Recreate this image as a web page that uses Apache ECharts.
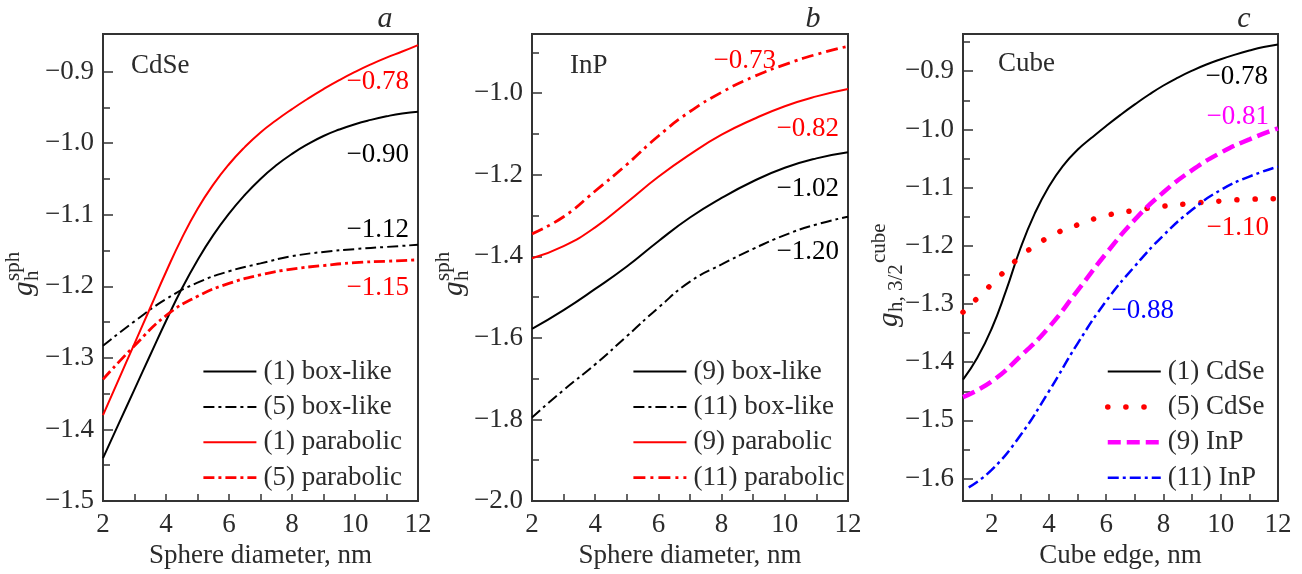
<!DOCTYPE html>
<html>
<head>
<meta charset="utf-8">
<script src="https://cdn.jsdelivr.net/npm/echarts@6/dist/echarts.min.js"></script>
<style>html,body{margin:0;padding:0;background:#fff}#c{width:1302px;height:574px}</style>
</head>
<body>
<div id="c"></div>
<script>
// ---------- data ----------
const xA = [2, 3, 4, 5, 6, 7, 8, 9, 10, 11, 12];
const xAfine = [2, 2.5, 3, 3.5, 4, 4.5, 5, 5.5, 6, 6.5, 7, 7.5, 8, 8.5, 9, 9.5, 10, 10.5, 11, 11.5, 12];
const a1Box = [-1.44, -1.392, -1.344, -1.296, -1.2485, -1.2035, -1.1635, -1.1285, -1.0985, -1.0725, -1.05, -1.031, -1.015, -1.0015, -0.99, -0.981, -0.9735, -0.9675, -0.9625, -0.9585, -0.956];
const a5Box = [-1.283, -1.249, -1.218, -1.195, -1.179, -1.168, -1.158, -1.152, -1.148, -1.145, -1.142];
const a1Par = [-1.38, -1.33, -1.28, -1.23, -1.18, -1.133, -1.092, -1.058, -1.0295, -1.0055, -0.985, -0.968, -0.9525, -0.938, -0.9245, -0.912, -0.9005, -0.89, -0.8805, -0.872, -0.863];
const a5Par = [-1.33, -1.283, -1.241, -1.214, -1.196, -1.184, -1.176, -1.171, -1.167, -1.165, -1.163];

const xB = [2, 3, 4, 5, 6, 7, 8, 9, 10, 11, 12];
const b9Box = [-1.578, -1.532, -1.48, -1.425, -1.363, -1.305, -1.257, -1.216, -1.183, -1.16, -1.145];
const b11Box = [-1.795, -1.728, -1.665, -1.596, -1.526, -1.462, -1.42, -1.382, -1.348, -1.322, -1.303];
const b9Par = [-1.405, -1.375, -1.329, -1.268, -1.205, -1.15, -1.102, -1.064, -1.032, -1.008, -0.99];
const b11Par = [-1.345, -1.303, -1.24, -1.175, -1.105, -1.045, -0.998, -0.96, -0.93, -0.905, -0.885];

const xC = [1, 2, 3, 4, 5, 6, 7, 8, 9, 10, 11, 12];
const xCfine = [1, 1.5, 2, 2.5, 3, 3.5, 4, 4.5, 5, 5.5, 6, 6.5, 7, 7.5, 8, 8.5, 9, 9.5, 10, 10.5, 11, 11.5, 12];
const c1CdSe = [-1.43, -1.3925, -1.3425, -1.2775, -1.205, -1.145, -1.098, -1.062, -1.035, -1.014, -0.994, -0.975, -0.957, -0.94, -0.9245, -0.911, -0.899, -0.8885, -0.8795, -0.8715, -0.8645, -0.8585, -0.854];
const c5CdSe = [-1.314, -1.266, -1.219, -1.185, -1.164, -1.148, -1.139, -1.132, -1.127, -1.123, -1.12, -1.119];
const c9InP = [-1.46, -1.433, -1.39, -1.34, -1.277, -1.213, -1.155, -1.108, -1.07, -1.04, -1.017, -0.998];
const xC11 = [1.2, 2, 3, 4, 5, 6, 7, 8, 9, 10, 11, 12];
const c11InP = [-1.615, -1.585, -1.526, -1.45, -1.368, -1.295, -1.235, -1.182, -1.138, -1.104, -1.081, -1.064];

// ticks
const xLabelsAB = [2, 4, 6, 8, 10, 12];
const xTicksAB = [2, 3, 4, 5, 6, 7, 8, 9, 10, 11, 12];
const xLabelsC = [2, 4, 6, 8, 10, 12];
const xTicksC = [1, 2, 3, 4, 5, 6, 7, 8, 9, 10, 11, 12];
const yMajorA = [-1.5, -1.4, -1.3, -1.2, -1.1, -1.0, -0.9];
const yMinorA = [-1.45, -1.35, -1.25, -1.15, -1.05, -0.95];
const yMajorB = [-2.0, -1.8, -1.6, -1.4, -1.2, -1.0];
const yMinorB = [-1.9, -1.7, -1.5, -1.3, -1.1, -0.9];
const yMajorC = [-1.6, -1.5, -1.4, -1.3, -1.2, -1.1, -1.0, -0.9];
const yMinorC = [-1.55, -1.45, -1.35, -1.25, -1.15, -1.05, -0.95, -0.85];

// end-value annotations
const annA = ['−0.78', '−0.90', '−1.12', '−1.15'];
const annB = ['−0.73', '−0.82', '−1.02', '−1.20'];
const annC = ['−0.78', '−0.81', '−1.10', '−0.88'];

// ---------- styling ----------
const FF = 'Liberation Serif, Times New Roman, serif';
const FS = 27;
const TXT = '#2b2b2b';
const RED = '#ff0000', MAG = '#ff00ff', BLUE = '#0000ff', BLK = '#000000';

const zip = (xs, ys) => xs.map((x, i) => [x, ys[i]]);
const fmt = v => (v < 0 ? '−' : '') + Math.abs(v).toFixed(1);

const grids = [
  {left: 103, top: 34, width: 315, height: 467},
  {left: 532, top: 34, width: 316, height: 467},
  {left: 963, top: 34, width: 315, height: 467}
].map(g => Object.assign(g, {show: true, borderColor: '#333', borderWidth: 2, backgroundColor: 'transparent', outerBoundsMode: 'none', containLabel: false}));

function xAxis(gi, min, max, labels, ticks, name) {
  return {
    type: 'value', gridIndex: gi, min, max, name, nameLocation: 'middle', nameGap: 40,
    nameTextStyle: {fontFamily: FF, fontSize: FS, color: TXT},
    axisLine: {show: false},
    axisTick: {show: true, inside: true, length: 7, lineStyle: {color: '#333', width: 1.5}, customValues: ticks},
    axisLabel: {fontFamily: FF, fontSize: FS, color: TXT, margin: 10, customValues: labels},
    splitLine: {show: false}
  };
}
function yAxes(gi, min, max, major, minor) {
  return [{
    type: 'value', gridIndex: gi, min, max,
    axisLine: {show: false},
    axisTick: {show: true, inside: true, length: 10, lineStyle: {color: '#333', width: 1.5}, customValues: major},
    axisLabel: {fontFamily: FF, fontSize: FS, color: TXT, margin: 9, formatter: fmt, customValues: major},
    splitLine: {show: false}
  }, {
    type: 'value', gridIndex: gi, min, max, position: 'left',
    axisLine: {show: false},
    axisTick: {show: true, inside: true, length: 7, lineStyle: {color: '#333', width: 1.5}, customValues: minor},
    axisLabel: {show: false},
    splitLine: {show: false}
  }];
}

function line(name, xi, yi, data, color, width, type, cap) {
  return {
    name, type: 'line', xAxisIndex: xi, yAxisIndex: yi, data, smooth: 0.5,
    showSymbol: false, symbol: 'none', silent: true,
    lineStyle: {color, width, type: type || 'solid', cap: cap || 'butt'},
    itemStyle: {color}
  };
}

const DD = [11, 4, 3, 4];
const series = [
  line('(1) box-like', 0, 0, zip(xAfine, a1Box), BLK, 2),
  line('(5) box-like', 0, 0, zip(xA, a5Box), BLK, 2, DD),
  line('(1) parabolic', 0, 0, zip(xAfine, a1Par), RED, 2),
  line('(5) parabolic', 0, 0, zip(xA, a5Par), RED, 2.8, DD),
  line('(9) box-like', 1, 2, zip(xB, b9Box), BLK, 2),
  line('(11) box-like', 1, 2, zip(xB, b11Box), BLK, 2, DD),
  line('(9) parabolic', 1, 2, zip(xB, b9Par), RED, 2),
  line('(11) parabolic', 1, 2, zip(xB, b11Par), RED, 2.8, [12, 5, 3, 5]),
  line('(1) CdSe', 2, 4, zip(xCfine, c1CdSe), BLK, 2),
  line('(5) CdSe', 2, 4, zip(xC, c5CdSe), RED, 5.5, [0.1, 18], 'round'),
  line('(9) InP', 2, 4, zip(xC, c9InP), MAG, 4.5, [13, 6]),
  line('(11) InP', 2, 4, zip(xC11, c11InP), BLUE, 2.5, DD)
];

function legend(left, names) {
  return {
    data: names, left, top: 353, orient: 'vertical', itemWidth: 53, itemHeight: 14, itemGap: 8.4,
    selectedMode: false,
    itemStyle: {opacity: 0},
    lineStyle: {width: 'inherit', type: 'inherit', cap: 'inherit'},
    textStyle: {fontFamily: FF, fontSize: FS, color: TXT, padding: [0, 0, 0, 2]}
  };
}

function txt(x, y, text, color, align, font) {
  return {type: 'text', x, y, silent: true,
    style: {text, fill: color, font: font || (FS + 'px ' + FF), align: align || 'right', verticalAlign: 'middle'}};
}
function ylabelSph(ox, oy) {
  return {type: 'group', x: ox, y: oy, rotation: Math.PI / 2, silent: true, children: [
    {type: 'text', x: 0, y: 0, style: {text: 'g', font: 'italic 29px ' + FF, fill: TXT, align: 'left', verticalAlign: 'middle'}},
    {type: 'text', x: 15, y: -11, style: {text: 'sph', font: '21px ' + FF, fill: TXT, align: 'left', verticalAlign: 'middle'}},
    {type: 'text', x: 15, y: 8, style: {text: 'h', font: '21px ' + FF, fill: TXT, align: 'left', verticalAlign: 'middle'}}
  ]};
}
function ylabelCube(ox, oy) {
  return {type: 'group', x: ox, y: oy, rotation: Math.PI / 2, silent: true, children: [
    {type: 'text', x: 0, y: 0, style: {text: 'g', font: 'italic 29px ' + FF, fill: TXT, align: 'left', verticalAlign: 'middle'}},
    {type: 'text', x: 15, y: 7, style: {text: 'h, 3/2', font: '21px ' + FF, fill: TXT, align: 'left', verticalAlign: 'middle'}},
    {type: 'text', x: 64, y: -10, style: {text: 'cube', font: '21px ' + FF, fill: TXT, align: 'left', verticalAlign: 'middle'}}
  ]};
}

const graphic = [
  txt(385, 19, 'a', TXT, 'center', 'italic 30px ' + FF),
  txt(813, 19, 'b', TXT, 'center', 'italic 30px ' + FF),
  txt(1244, 19, 'c', TXT, 'center', 'italic 30px ' + FF),
  txt(131, 66, 'CdSe', TXT, 'left'),
  txt(570, 66, 'InP', TXT, 'left'),
  txt(998, 64, 'Cube', TXT, 'left'),
  txt(409, 82, annA[0], RED), txt(409, 155, annA[1], BLK), txt(409, 230, annA[2], BLK), txt(409, 288, annA[3], RED),
  txt(776, 61, annB[0], RED), txt(839, 129, annB[1], RED), txt(839, 189, annB[2], BLK), txt(839, 252, annB[3], BLK),
  txt(1268, 77, annC[0], BLK), txt(1269, 117, annC[1], MAG), txt(1269, 228, annC[2], RED), txt(1174, 311, annC[3], BLUE),
  ylabelSph(24, 296), ylabelSph(454, 296), ylabelCube(889, 327)
];

const option = {
  animation: false,
  backgroundColor: '#fff',
  grid: grids,
  xAxis: [
    xAxis(0, 2, 12, xLabelsAB, xTicksAB, 'Sphere diameter, nm'),
    xAxis(1, 2, 12, xLabelsAB, xTicksAB, 'Sphere diameter, nm'),
    xAxis(2, 1, 12, xLabelsC, xTicksC, 'Cube edge, nm')
  ],
  yAxis: [].concat(
    yAxes(0, -1.5, -0.8475, yMajorA, yMinorA),
    yAxes(1, -2.0, -0.855, yMajorB, yMinorB),
    yAxes(2, -1.6385, -0.836, yMajorC, yMinorC)
  ),
  legend: [
    legend(197, ['(1) box-like', '(5) box-like', '(1) parabolic', '(5) parabolic']),
    legend(627, ['(9) box-like', '(11) box-like', '(9) parabolic', '(11) parabolic']),
    legend(1100, ['(1) CdSe', '(5) CdSe', '(9) InP', '(11) InP'])
  ],
  series,
  graphic
};
const chart = echarts.init(document.getElementById('c'), null, {renderer: 'canvas'});
chart.setOption(option);
</script>
</body>
</html>
